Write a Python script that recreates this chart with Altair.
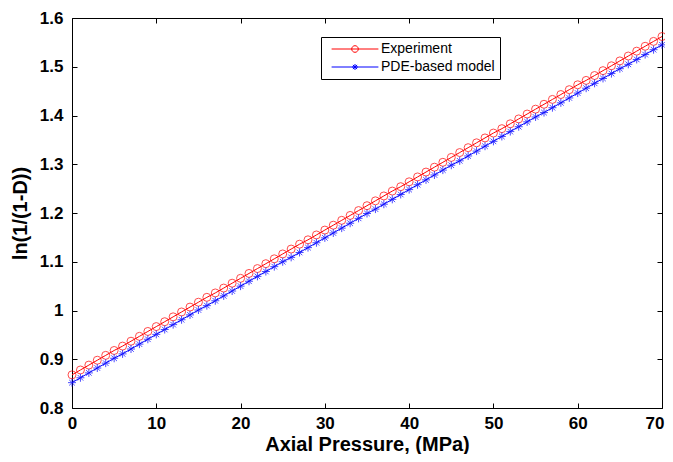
import altair as alt
import pandas as pd

# ---- data ----
pressure = list(range(0, 71))
experiment = [
    0.868, 0.878, 0.888, 0.898, 0.908, 0.918, 0.927, 0.937, 0.947, 0.957,
    0.967, 0.977, 0.987, 0.997, 1.007, 1.017, 1.027, 1.036, 1.046, 1.056,
    1.066, 1.076, 1.086, 1.096, 1.106, 1.116, 1.126, 1.136, 1.145, 1.155,
    1.165, 1.175, 1.185, 1.195, 1.205, 1.215, 1.225, 1.235, 1.245, 1.254,
    1.264, 1.274, 1.284, 1.294, 1.304, 1.314, 1.324, 1.334, 1.344, 1.354,
    1.364, 1.373, 1.383, 1.393, 1.403, 1.413, 1.423, 1.433, 1.443, 1.453,
    1.463, 1.472, 1.482, 1.492, 1.502, 1.512, 1.522, 1.532, 1.542, 1.552,
    1.562,
]
pde_model = [
    0.852, 0.862, 0.872, 0.882, 0.892, 0.902, 0.911, 0.921, 0.931, 0.941,
    0.951, 0.961, 0.971, 0.981, 0.991, 1.001, 1.010, 1.020, 1.030, 1.040,
    1.050, 1.060, 1.070, 1.080, 1.090, 1.100, 1.109, 1.119, 1.129, 1.139,
    1.149, 1.159, 1.169, 1.179, 1.189, 1.199, 1.208, 1.218, 1.228, 1.238,
    1.248, 1.258, 1.268, 1.278, 1.288, 1.298, 1.307, 1.317, 1.327, 1.337,
    1.347, 1.357, 1.367, 1.377, 1.387, 1.397, 1.406, 1.416, 1.426, 1.436,
    1.446, 1.456, 1.466, 1.476, 1.486, 1.496, 1.505, 1.515, 1.525, 1.535,
    1.545,
]
series_names = ["Experiment", "PDE-based model"]
series_colors = ["#ff0000", "#0000ff"]
x_ticks = [0, 10, 20, 30, 40, 50, 60, 70]
y_ticks = [0.8, 0.9, 1.0, 1.1, 1.2, 1.3, 1.4, 1.5, 1.6]

rows = []
for p, e, m in zip(pressure, experiment, pde_model):
    rows.append({"p": p, "v": e, "s": series_names[0]})
    rows.append({"p": p, "v": m, "s": series_names[1]})
df = pd.DataFrame(rows)

STAR = "M-1,0L1,0M0,-1L0,1M-0.7,-0.7L0.7,0.7M-0.7,0.7L0.7,-0.7"
LEG_CIRCLE = "M-7.8,0L7.8,0M1.1,0A1.1,1.1,0,1,1,-1.1,0A1.1,1.1,0,1,1,1.1,0"
LEG_STAR = "M-7.8,0L7.8,0M-1,0L1,0M0,-1L0,1M-0.7,-0.7L0.7,0.7M-0.7,0.7L0.7,-0.7"

FONT = "Liberation Sans"
xscale = alt.Scale(domain=[0, 70], nice=False, zero=False)
yscale = alt.Scale(domain=[0.8, 1.6], nice=False, zero=False)


def make_legend():
    return alt.Legend(
        title=None,
        orient="none",
        legendX=249,
        legendY=19,
        direction="vertical",
        symbolSize=36,
        symbolStrokeWidth=1,
        symbolOpacity=1,
        symbolOffset=22,
        labelOffset=19,
        labelFont=FONT,
        labelFontSize=14,
        labelColor="black",
        strokeColor="black",
        fillColor="white",
        padding=5,
        rowPadding=4,
    )


lines = alt.Chart(df).mark_line(strokeWidth=1).encode(
    x=alt.X(
        "p:Q",
        scale=xscale,
        axis=alt.Axis(
            values=x_ticks, orient="bottom", offset=-5, tickSize=5, domain=False,
            grid=False, labelPadding=7, labelFlush=False,
            labelAlign={"condition": {"test": "datum.value == 70", "value": "right"}, "value": "center"},
            labelOffset={"condition": {"test": "datum.value == 70", "value": 2}, "value": 0},
            title="Axial Pressure, (MPa)", titlePadding=3, titleFontSize=20,
        ),
    ),
    y=alt.Y(
        "v:Q",
        scale=yscale,
        axis=alt.Axis(
            values=y_ticks, orient="left", offset=-5, tickSize=5, domain=False,
            grid=False, labelPadding=9, labelFlush=False, format=".1~f",
            title="ln(1/(1-D))", titlePadding=9, titleFontSize=20,
        ),
    ),
    color=alt.Color("s:N", scale=alt.Scale(domain=series_names, range=series_colors), legend=None),
    detail="s:N",
)

points = alt.Chart(df).mark_point(filled=False, size=64, strokeWidth=1).encode(
    x=alt.X(
        "p:Q",
        scale=xscale,
        axis=alt.Axis(
            values=x_ticks, orient="top", offset=-5, tickSize=5, domain=False,
            grid=False, labels=False, title=None,
        ),
    ),
    y=alt.Y(
        "v:Q",
        scale=yscale,
        axis=alt.Axis(
            values=y_ticks, orient="right", offset=-5, tickSize=5, domain=False,
            grid=False, labels=False, title=None,
        ),
    ),
    color=alt.Color("s:N", scale=alt.Scale(domain=series_names, range=series_colors), legend=None),
    shape=alt.Shape("s:N", scale=alt.Scale(domain=series_names, range=["circle", STAR]), legend=None),
)

# legend-only layer (no rows survive the filter; scales have explicit domains)
legend_layer = alt.Chart(df).transform_filter("datum.p < 0").mark_point(
    filled=False, size=36, strokeWidth=1
).encode(
    x=alt.X("p:Q", scale=xscale, axis=None),
    y=alt.Y("v:Q", scale=yscale, axis=None),
    color=alt.Color("s:N", scale=alt.Scale(domain=series_names, range=series_colors), legend=make_legend()),
    shape=alt.Shape("s:N", scale=alt.Scale(domain=series_names, range=[LEG_CIRCLE, LEG_STAR]), legend=make_legend()),
)

chart = (
    alt.layer(lines, points, legend_layer)
    .resolve_axis(x="independent", y="independent")
    .resolve_scale(shape="independent", color="independent")
    .properties(
        width=590,
        height=390,
        autosize=alt.AutoSizeParams(type="none"),
        padding={"left": 64, "top": 10, "right": 3, "bottom": 46},
        background="white",
    )
    .configure_view(stroke="black", strokeWidth=1)
    .configure_axis(
        labelFont=FONT,
        labelFontSize=17,
        labelFontWeight="bold",
        labelColor="black",
        titleFont=FONT,
        titleFontWeight="bold",
        titleColor="black",
        tickColor="black",
        tickWidth=1,
    )
)

chart.save("out.html", embed_options={"renderer": "svg", "actions": False})
